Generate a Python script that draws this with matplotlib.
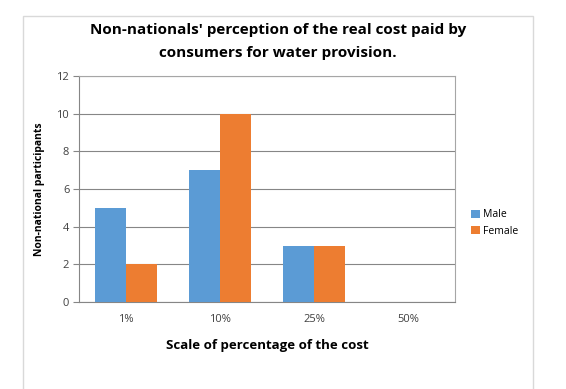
import numpy as np
import matplotlib.pyplot as plt
from matplotlib.patches import Rectangle

# data
categories = ['1%', '10%', '25%', '50%']
male = [5, 7, 3, 0]
female = [2, 10, 3, 0]

plt.rcParams['font.family'] = ['Open Sans', 'DejaVu Sans']

fig = plt.figure(figsize=(5.66, 3.89), dpi=100)
# outer chart border
fig.patches.append(Rectangle((23/566, -0.05), (533-23)/566, 1 - 16/389 + 0.05,
                             transform=fig.transFigure, fill=False,
                             edgecolor='#d9d9d9', linewidth=1))

ax = fig.add_axes([79/566, 1 - 302/389, 376/566, 226/389])
x = np.arange(len(categories))
w = 0.33
ax.bar(x - w/2, male, w, color='#5b9bd5', label='Male', zorder=3)
ax.bar(x + w/2, female, w, color='#ed7d31', label='Female', zorder=3)

ax.set_xlim(-0.5, len(categories) - 0.5)
ax.set_ylim(0, 12)
ax.set_yticks(range(0, 13, 2))
ax.set_xticks(x)
ax.set_xticklabels(categories)
ax.yaxis.grid(True, color='#868686', linewidth=0.8, zorder=0)
for s in ax.spines.values():
    s.set_color('#a6a6a6')
    s.set_linewidth(0.8)
ax.spines['left'].set_color('#868686')
ax.spines['bottom'].set_color('#868686')
ax.tick_params(axis='y', length=4, color='#868686', labelsize=8, labelcolor='#404040', pad=3)
ax.tick_params(axis='x', length=0, labelsize=8, labelcolor='#404040', pad=9)

ax.set_ylabel('Non-national participants', fontsize=7.5, fontweight='bold', labelpad=8)
ax.set_xlabel('Scale of percentage of the cost', fontsize=9.5, fontweight='bold', labelpad=10)

fig.text(278/566, 1 - 30/389, "Non-nationals' perception of the real cost paid by",
         ha='center', va='center', fontsize=11, fontweight='bold')
fig.text(278/566, 1 - 53/389, "consumers for water provision.",
         ha='center', va='center', fontsize=11, fontweight='bold')

ax.legend(loc='center left', bbox_to_anchor=(467/566, 1 - 223/389),
          bbox_transform=fig.transFigure, frameon=False, fontsize=7.5,
          handlelength=0.8, handleheight=0.8, handletextpad=0.3,
          labelspacing=0.55, borderaxespad=0)

fig.savefig('out.png', dpi=100)
